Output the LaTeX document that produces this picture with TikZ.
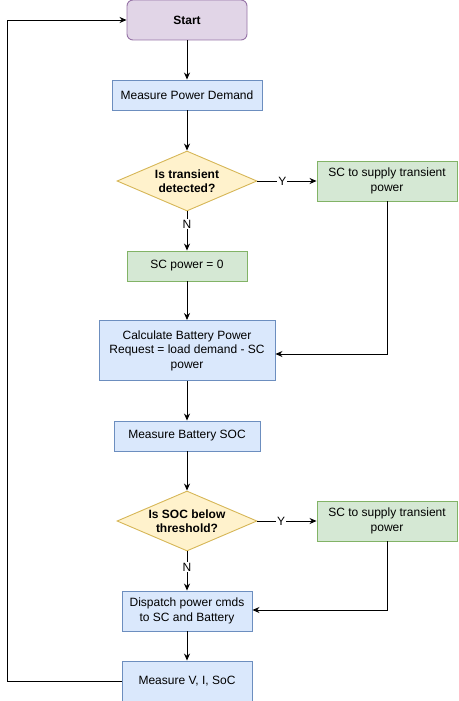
\documentclass[tikz,border=0pt]{standalone}
\usepackage{fontspec}
\setmainfont{Liberation Sans}
\usetikzlibrary{shapes.geometric,arrows.meta}
\definecolor{bluefill}{HTML}{DAE8FC}
\definecolor{bluedraw}{HTML}{6C8EBF}
\definecolor{greenfill}{HTML}{D5E8D4}
\definecolor{greendraw}{HTML}{82B366}
\definecolor{yellowfill}{HTML}{FFF2CC}
\definecolor{yellowdraw}{HTML}{D6B656}
\definecolor{purplefill}{HTML}{E1D5E7}
\definecolor{purpledraw}{HTML}{9673A6}
\tikzset{
  base/.style={inner sep=0pt, align=center, line width=0.9pt, font=\fontsize{12}{14.5}\selectfont},
  bluebox/.style={base, rectangle, draw=bluedraw, fill=bluefill},
  greenbox/.style={base, rectangle, draw=greendraw, fill=greenfill},
  startbox/.style={base, rectangle, rounded corners=6pt, draw=purpledraw, fill=purplefill},
  decide/.style={base, diamond, draw=yellowdraw, fill=yellowfill, minimum width=140pt, minimum height=60pt},
  conn/.style={line width=0.9pt, -{Stealth[length=7pt,width=6pt]}},
  lbl/.style={fill=white, inner sep=1pt, font=\fontsize{12}{14}\selectfont}
}
\begin{document}
\begin{tikzpicture}[x=1pt,y=-1pt]
\useasboundingbox (0,0) rectangle (458,701);
\node[startbox, minimum width=120pt, minimum height=40pt] (start) at (187,20) {\bfseries Start};
\node[bluebox, minimum width=150pt, minimum height=30pt] (mpd) at (187,95) {Measure Power Demand};
\node[decide, label={[base,font=\fontsize{12}{14.5}\selectfont\bfseries]center:Is transient\\detected?}] (d1) at (187,181) {};
\node[greenbox, minimum width=140pt, minimum height=40pt] (sc1) at (387,181) {SC to supply transient\\power};
\node[greenbox, minimum width=120pt, minimum height=30pt] (sc0) at (187,266) {SC power = 0};
\node[bluebox, minimum width=176pt, minimum height=60pt] (calc) at (187,350.5) {Calculate Battery Power\\Request = load demand - SC\\power};
\node[bluebox, minimum width=146pt, minimum height=30pt] (mbs) at (187,436) {Measure Battery SOC};
\node[decide, label={[base,font=\fontsize{12}{14.5}\selectfont\bfseries]center:Is SOC below\\threshold?}] (d2) at (187,521) {};
\node[greenbox, minimum width=140pt, minimum height=40pt] (sc2) at (387,521) {SC to supply transient\\power};
\node[bluebox, minimum width=130pt, minimum height=40pt] (disp) at (187,611) {Dispatch power cmds\\to SC and Battery};
\node[bluebox, minimum width=130pt, minimum height=40pt] (mvis) at (187,681) {Measure V, I, SoC};
\coordinate (loop) at (7,20);

\draw[conn] (start) -- (mpd);
\draw[conn] (mpd) -- (d1);
\draw[conn] (d1.east) -- node[lbl, pos=0.42] {Y} (sc1.west);
\draw[conn] (d1.south) -- node[lbl, pos=0.33] {N} (sc0.north);
\draw[conn] (sc0) -- (calc);
\draw[conn] (sc1.south) |- ([yshift=-3.5pt]calc.east);
\draw[conn] (calc) -- (mbs);
\draw[conn] (mbs) -- (d2);
\draw[conn] (d2.east) -- node[lbl, pos=0.4] {Y} (sc2.west);
\draw[conn] (d2.south) -- node[lbl, pos=0.4] {N} (disp.north);
\draw[conn] (sc2.south) |- ([yshift=1pt]disp.east);
\draw[conn] (disp) -- (mvis);
\draw[conn] (mvis.west) -| (loop) -- (start.west);
\end{tikzpicture}
\end{document}
